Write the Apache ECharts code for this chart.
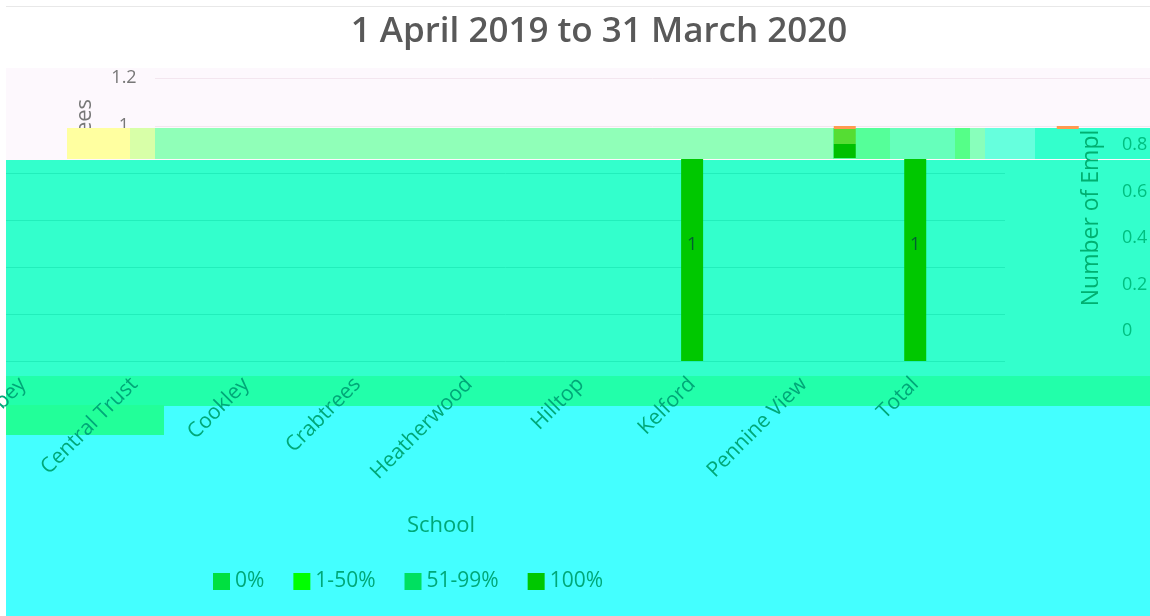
<!DOCTYPE html>
<html>
<head>
<meta charset="utf-8">
<title>1 April 2019 to 31 March 2020</title>
<script src="https://cdn.jsdelivr.net/npm/echarts@6/dist/echarts.min.js"></script>
<style>
  html, body { margin: 0; padding: 0; background: #fff; }
  #bands {
    position: absolute; left: 6px; top: 6px; width: 1144px; height: 610px;
    border-top: 1px solid #e8e8e8; box-sizing: border-box;
    /* the horizontal colour bands of the reference */
    background: linear-gradient(to bottom,
      #ffffff 0, #ffffff 61px,
      #fdf8fd 61px, #fdf8fd 153px,
      #33ffcc 153px, #33ffcc 369px,
      #22ffaa 369px, #22ffaa 399px,
      #44ffff 399px, #44ffff 610px);
  }
  #chart { position: absolute; left: 0; top: 0; width: 1150px; height: 616px; }
</style>
</head>
<body>
<div id="bands"></div>
<div id="chart"></div>
<script>
const schools = ['Abbey', 'Central Trust', 'Cookley', 'Crabtrees', 'Heatherwood', 'Hilltop', 'Kelford', 'Pennine View', 'Total']
const pct0 = [null, null, null, null, null, null, null, null, null]
const pct1to50 = [null, null, null, null, null, null, null, null, null]
const pct51to99 = [null, null, null, null, null, null, null, null, null]
const pct100 = [null, null, null, null, null, null, 1, null, 1]

const textColor = '#00a878'
const font = '"Open Sans", sans-serif'

const chart = echarts.init(document.getElementById('chart'))

const helperX = (gridIndex) => ({ gridIndex, type: 'value', show: false })
const noLine = { axisLine: { show: false }, axisTick: { show: false } }

// flat pieces of the broken row between y 128 and y 158
const patch = (x, width, fill) => ({
  type: 'rect', z: 3, silent: true,
  shape: { x, y: 128, width, height: 31 },
  style: { fill }
})

const option = {
  backgroundColor: 'transparent',
  animation: false,
  title: [
    {
      text: '1 April 2019 to 31 March 2020',
      left: 594, top: 10, textAlign: 'center',
      textStyle: { color: '#595959', fontFamily: font, fontSize: 35, fontWeight: 600 }
    },
    {
      text: 'School',
      left: 436, top: 510, textAlign: 'center',
      textStyle: { color: textColor, fontFamily: font, fontSize: 22, fontWeight: 400 }
    }
  ],
  legend: {
    data: ['0%', '1-50%', '51-99%', '100%'],
    icon: 'rect',
    left: 208, top: 566,
    itemWidth: 17, itemHeight: 17, itemGap: 29,
    selectedMode: false,
    textStyle: { color: textColor, fontFamily: font, fontSize: 21 }
  },
  grid: [
    { left: -33, right: 179, top: 159, bottom: 255, outerBoundsMode: 'none' }, // bars and school labels
    { left: 155, right: 0, top: 78, height: 48, outerBoundsMode: 'none' }, // 1 to 1.2
    { left: 6, right: 145, top: 173, bottom: 255, outerBoundsMode: 'none' }, // lower grid lines
    { left: 155, right: 36, top: 145, bottom: 285, outerBoundsMode: 'none' }, // displaced right labels
    { left: 120, right: 26.5, top: 126, height: 32, outerBoundsMode: 'none' } // tops of the bars
  ],
  xAxis: [
    {
      gridIndex: 0,
      type: 'category',
      data: schools,
      ...noLine,
      axisLabel: {
        color: textColor, fontFamily: font, fontSize: 21,
        rotate: 45, margin: 20, interval: 0
      }
    },
    helperX(1),
    helperX(2),
    helperX(3),
    { gridIndex: 4, type: 'category', data: schools, show: false }
  ],
  yAxis: [
    // bars run to 1, the rows above 0.86 belong to the last grid
    { gridIndex: 0, type: 'value', min: 0, max: 0.86, show: false },
    {
      gridIndex: 1, type: 'value', min: 1, max: 1.2, interval: 0.2,
      ...noLine,
      axisLabel: { color: '#777777', fontFamily: font, fontSize: 18, align: 'center', margin: 31 },
      splitLine: { lineStyle: { color: '#f3e6ef' } }
    },
    {
      gridIndex: 2, type: 'value', min: 0, max: 0.8, interval: 0.2,
      ...noLine,
      axisLabel: { show: false },
      splitLine: { lineStyle: { color: '#22eebb' } }
    },
    {
      gridIndex: 3, type: 'value', min: 0, max: 0.8, interval: 0.2, position: 'right', z: 5,
      ...noLine,
      axisLabel: { color: '#00c080', fontFamily: font, fontSize: 18 },
      splitLine: { show: false }
    },
    { gridIndex: 4, type: 'value', min: 0.864, max: 1, show: false }
  ],
  series: [
    { name: '0%', type: 'bar', stack: 'a', data: pct0, itemStyle: { color: '#00e040' } },
    { name: '1-50%', type: 'bar', stack: 'a', data: pct1to50, itemStyle: { color: '#00ff00' } },
    { name: '51-99%', type: 'bar', stack: 'a', data: pct51to99, itemStyle: { color: '#00e060' } },
    {
      name: '100%', type: 'bar', stack: 'a', data: pct100, barWidth: 22,
      itemStyle: { color: '#00c800' },
      label: { show: true, position: 'inside', offset: [0, -15], color: '#006030', fontFamily: font, fontSize: 18 }
    },
    {
      name: 'tops', type: 'bar', xAxisIndex: 4, yAxisIndex: 4, data: pct100, barWidth: 22, z: 10,
      itemStyle: {
        color: (p) => new echarts.graphic.LinearGradient(0, 0, 0, 1, p.name === 'Total'
          ? [
              { offset: 0, color: '#ff9a50' }, { offset: 0.1, color: '#ff9a50' },
              { offset: 0.1, color: 'rgba(0,0,0,0)' }, { offset: 1, color: 'rgba(0,0,0,0)' }
            ]
          : [
              { offset: 0, color: '#ff9a50' }, { offset: 0.1, color: '#ff9a50' },
              { offset: 0.1, color: '#55dd33' }, { offset: 0.55, color: '#55dd33' },
              { offset: 0.55, color: '#00c000' }, { offset: 1, color: '#00c000' }
            ])
      }
    }
  ],
  graphic: {
    elements: [
      patch(67, 63, '#ffffa0'),
      patch(130, 25, '#d8ffa8'),
      patch(155, 678, '#90ffb8'),
      patch(833, 57, '#55ff99'),
      patch(890, 65, '#66ffbb'),
      patch(955, 15, '#55ff88'),
      patch(970, 15, '#88ffbb'),
      patch(985, 50, '#66ffdd'),
      patch(1035, 115, '#33ffcc'),
      // the low green strip under the school labels
      { type: 'rect', z: -1, silent: true, shape: { x: 6, y: 405, width: 158, height: 30 }, style: { fill: '#22ff99' } },
      {
        type: 'text', z: 2, silent: true, x: 85, y: 122, rotation: Math.PI / 2,
        style: { text: 'yees', fill: '#777777', font: '22px "Open Sans", sans-serif', align: 'center', verticalAlign: 'middle' }
      },
      {
        type: 'text', z: 4, silent: true, x: 1091, y: 218, rotation: Math.PI / 2,
        style: { text: 'Number of Empl', fill: '#00b070', font: '23px "Open Sans", sans-serif', align: 'center', verticalAlign: 'middle' }
      }
    ]
  }
}

chart.setOption(option)
</script>
</body>
</html>
